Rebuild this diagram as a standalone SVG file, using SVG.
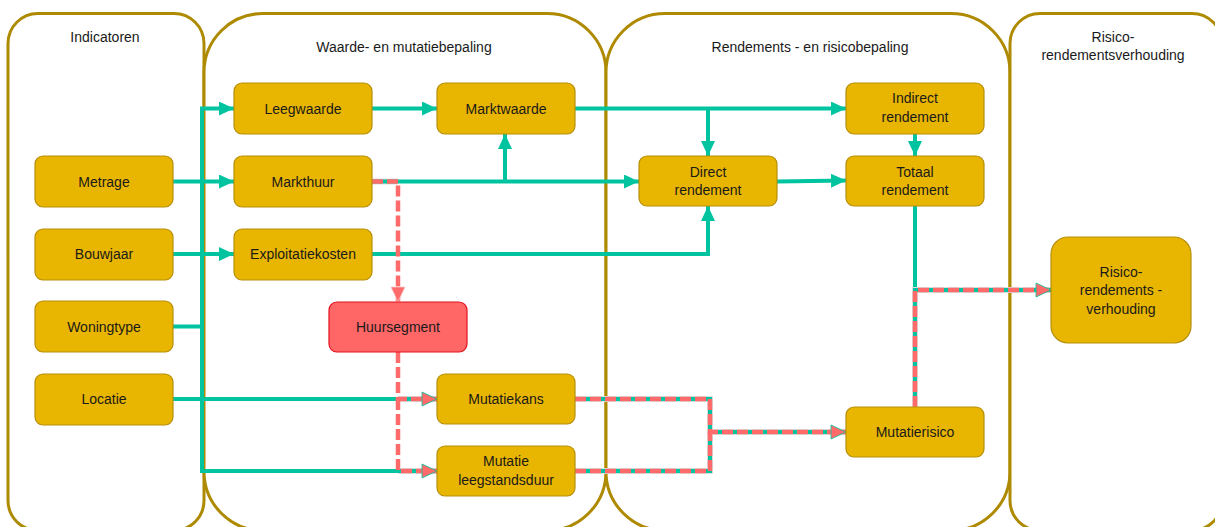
<svg xmlns="http://www.w3.org/2000/svg" width="1215" height="527" viewBox="0 0 1215 527">
  <style>
    .lane { fill: #ffffff; stroke: #AE8A00; stroke-width: 3; }
    .lane-title { font-family: "Liberation Sans", Arial, sans-serif; font-size: 14px; fill: #1a1a1a; text-anchor: middle; }
    .box { fill: #E8B500; stroke: #B58F0C; stroke-width: 1.2; }
    .box-red { fill: #FF6666; stroke: #E3121C; stroke-width: 1.2; }
    .lbl { font-family: "Liberation Sans", Arial, sans-serif; font-size: 14px; fill: #1a1a1a; text-anchor: middle; }
    .teal { fill: none; stroke: #00C4A0; stroke-width: 4; }
    .edge { fill: none; stroke: #dcdcdc; stroke-width: 6; }
    .pink { fill: none; stroke: #FF6B6B; stroke-width: 4.5; stroke-dasharray: 11 4; }
  </style>
  <defs>
    <marker id="arrowTeal" markerUnits="userSpaceOnUse" markerWidth="15" markerHeight="14" refX="15" refY="7" orient="auto">
      <path d="M0,0 L15,7 L0,14 Z" fill="#00C4A0"/>
    </marker>
    <marker id="arrowPink" markerUnits="userSpaceOnUse" markerWidth="17" markerHeight="16" refX="16" refY="8" orient="auto">
      <path d="M1,1 L16,8 L1,15 Z" fill="#FF6B6B" stroke="#00C4A0" stroke-width="0.8"/>
    </marker>
    <marker id="arrowPinkPlain" markerUnits="userSpaceOnUse" markerWidth="17" markerHeight="16" refX="16" refY="8" orient="auto">
      <path d="M1,1 L16,8 L1,15 Z" fill="#FF6B6B" stroke="#f4c9c9" stroke-width="0.8"/>
    </marker>
  </defs>

  <rect width="1215" height="527" fill="#ffffff"/>

  <!-- swimlanes -->
  <g id="lanes">
    <rect class="lane" x="8" y="13.5" width="196" height="517" rx="30" ry="30"/>
    <rect class="lane" x="204" y="13.5" width="402" height="517" rx="59" ry="59"/>
    <rect class="lane" x="606" y="13.5" width="404" height="517" rx="59" ry="59"/>
    <rect class="lane" x="1010" y="13.5" width="212" height="517" rx="30" ry="30"/>
    <text class="lane-title" x="105" y="42">Indicatoren</text>
    <text class="lane-title" x="404" y="52">Waarde- en mutatiebepaling</text>
    <text class="lane-title" x="810" y="52">Rendements - en risicobepaling</text>
    <text class="lane-title" x="1113" y="42">Risico-</text>
    <text class="lane-title" x="1113" y="60">rendementsverhouding</text>
  </g>

  <!-- connectors -->
  <g id="connectors">
    <!-- solid flows -->
    <path class="teal" d="M173,326.5 H202 V108.5 H234" marker-end="url(#arrowTeal)"/>
    <path class="teal" d="M202,326.5 V471 H398"/>
    <path class="teal" d="M173,181.5 H234" marker-end="url(#arrowTeal)"/>
    <path class="teal" d="M173,254 H234" marker-end="url(#arrowTeal)"/>
    <path class="teal" d="M173,399 H398"/>
    <path class="teal" d="M372,108.5 H437" marker-end="url(#arrowTeal)"/>
    <path class="teal" d="M575,108.5 H846" marker-end="url(#arrowTeal)"/>
    <path class="teal" d="M708,108.5 V156" marker-end="url(#arrowTeal)"/>
    <path class="teal" d="M398,181.5 H639" marker-end="url(#arrowTeal)"/>
    <path class="teal" d="M505,181.5 V134" marker-end="url(#arrowTeal)"/>
    <path class="teal" d="M372,254 H708 V206" marker-end="url(#arrowTeal)"/>
    <path class="teal" d="M777,181.5 L846,180.5" marker-end="url(#arrowTeal)"/>
    <path class="teal" d="M915,134 V156" marker-end="url(#arrowTeal)"/>
    <path class="teal" d="M915,206 V290"/>

    <!-- shared segments: dashed risk flow over solid flow -->
    <path class="edge" d="M372,181.5 H398"/>
    <path class="teal" d="M372,181.5 H398"/>
    <path class="edge" d="M398,399 H437"/>
    <path class="teal" d="M398,399 H437"/>
    <path class="edge" d="M398,471 H437"/>
    <path class="teal" d="M398,471 H437"/>
    <path class="edge" d="M575,399 H710 V471 H575 M710,432 H846"/>
    <path class="teal" d="M575,399 H710 V471 H575 M710,432 H846"/>
    <path class="edge" d="M915,407 V290 H1051"/>
    <path class="teal" d="M915,407 V290 H1051"/>

    <!-- dashed risk flows -->
    <path class="pink" d="M372,181.5 H398 V302" marker-end="url(#arrowPinkPlain)"/>
    <path class="pink" d="M398,352 V399 H437" marker-end="url(#arrowPink)"/>
    <path class="pink" d="M398,399 V471 H437" marker-end="url(#arrowPink)"/>
    <path class="pink" d="M575,399 H710 V432 H846" marker-end="url(#arrowPink)"/>
    <path class="pink" d="M575,471 H710 V432"/>
    <path class="pink" d="M915,407 V290 H1051" marker-end="url(#arrowPink)"/>
  </g>

  <!-- nodes -->
  <g id="metrage">
    <rect class="box" x="35" y="156" width="138" height="51" rx="8"/>
    <text class="lbl" x="104" y="186.5">Metrage</text>
  </g>
  <g id="bouwjaar">
    <rect class="box" x="35" y="229" width="138" height="51" rx="8"/>
    <text class="lbl" x="104" y="259">Bouwjaar</text>
  </g>
  <g id="woningtype">
    <rect class="box" x="35" y="301" width="138" height="51" rx="8"/>
    <text class="lbl" x="104" y="331.5">Woningtype</text>
  </g>
  <g id="locatie">
    <rect class="box" x="35" y="374" width="138" height="51" rx="8"/>
    <text class="lbl" x="104" y="404">Locatie</text>
  </g>
  <g id="leegwaarde">
    <rect class="box" x="234" y="83" width="138" height="51" rx="8"/>
    <text class="lbl" x="303" y="113.5">Leegwaarde</text>
  </g>
  <g id="markthuur">
    <rect class="box" x="234" y="156" width="138" height="51" rx="8"/>
    <text class="lbl" x="303" y="186.5">Markthuur</text>
  </g>
  <g id="exploitatiekosten">
    <rect class="box" x="234" y="229" width="138" height="51" rx="8"/>
    <text class="lbl" x="303" y="259">Exploitatiekosten</text>
  </g>
  <g id="marktwaarde">
    <rect class="box" x="437" y="83" width="138" height="51" rx="8"/>
    <text class="lbl" x="506" y="113.5">Marktwaarde</text>
  </g>
  <g id="huursegment">
    <rect class="box-red" x="329" y="302" width="138" height="50" rx="8"/>
    <text class="lbl" x="398" y="332">Huursegment</text>
  </g>
  <g id="mutatiekans">
    <rect class="box" x="437" y="374" width="138" height="50" rx="8"/>
    <text class="lbl" x="506" y="404">Mutatiekans</text>
  </g>
  <g id="mutatie-leegstandsduur">
    <rect class="box" x="437" y="446" width="138" height="50" rx="8"/>
    <text class="lbl" x="506" y="466">Mutatie</text>
    <text class="lbl" x="506" y="485">leegstandsduur</text>
  </g>
  <g id="direct-rendement">
    <rect class="box" x="639" y="156" width="138" height="50" rx="8"/>
    <text class="lbl" x="708" y="177">Direct</text>
    <text class="lbl" x="708" y="195">rendement</text>
  </g>
  <g id="indirect-rendement">
    <rect class="box" x="846" y="83" width="138" height="51" rx="8"/>
    <text class="lbl" x="915" y="103">Indirect</text>
    <text class="lbl" x="915" y="122">rendement</text>
  </g>
  <g id="totaal-rendement">
    <rect class="box" x="846" y="156" width="138" height="50" rx="8"/>
    <text class="lbl" x="915" y="177">Totaal</text>
    <text class="lbl" x="915" y="195">rendement</text>
  </g>
  <g id="mutatierisico">
    <rect class="box" x="846" y="407" width="138" height="50" rx="8"/>
    <text class="lbl" x="915" y="437">Mutatierisico</text>
  </g>
  <g id="risico-rendementsverhouding">
    <rect class="box" x="1051" y="237" width="140" height="106" rx="17"/>
    <text class="lbl" x="1121" y="277">Risico-</text>
    <text class="lbl" x="1121" y="295">rendements -</text>
    <text class="lbl" x="1121" y="314">verhouding</text>
  </g>
</svg>
